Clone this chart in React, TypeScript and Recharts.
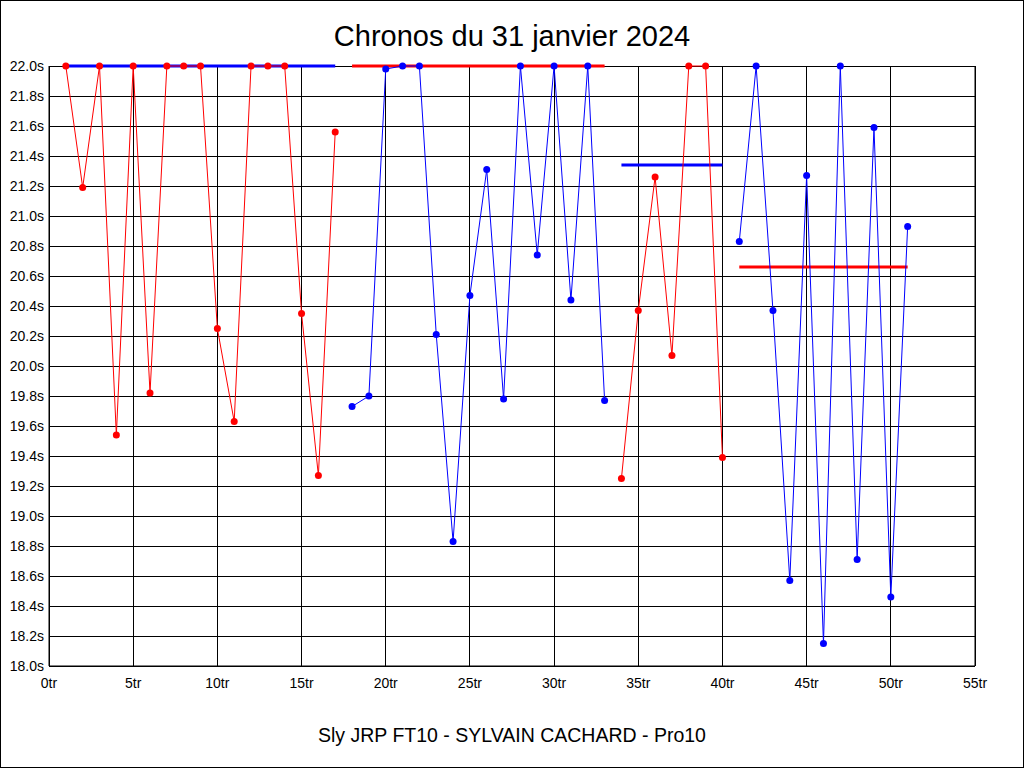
import React from 'react'
import { LineChart, Line, XAxis, YAxis, CartesianGrid } from 'recharts'

// lap times (s), values above 22.0 are shown capped at 22.0
const laps = [
  1, 2, 3, 4, 5, 6, 7, 8, 9, 10, 11, 12, 13, 14, 15, 16, 17,
  18, 19, 20, 21, 22, 23, 24, 25, 26, 27, 28, 29, 30, 31, 32, 33,
  34, 35, 36, 37, 38, 39, 40,
  41, 42, 43, 44, 45, 46, 47, 48, 49, 50, 51,
]
const times = [
  22.0, 21.19, 22.0, 19.54, 22.0, 19.82, 22.0, 22.0, 22.0, 20.25, 19.63, 22.0, 22.0, 22.0, 20.35, 19.27, 21.56,
  19.73, 19.8, 21.98, 22.0, 22.0, 20.21, 18.83, 20.47, 21.31, 19.78, 22.0, 20.74, 22.0, 20.44, 22.0, 19.77,
  19.25, 20.37, 21.26, 20.07, 22.0, 22.0, 19.39,
  20.83, 22.0, 20.37, 18.57, 21.27, 18.15, 22.0, 18.71, 21.59, 18.46, 20.93,
]

// sessions (first lap, last lap), their colour, and the mean line drawn in the other colour
const sessionStart = [1, 18, 34, 41]
const sessionEnd = [17, 33, 40, 51]
const sessionColors = ['#ff0000', '#0000ff', '#ff0000', '#0000ff']
const meanTimes = [22.0, 22.0, 21.34, 20.66]
const meanColors = ['#0000ff', '#ff0000', '#0000ff', '#ff0000']

const xTicks = [0, 5, 10, 15, 20, 25, 30, 35, 40, 45, 50, 55]
const yTicks = [
  18.0, 18.2, 18.4, 18.6, 18.8, 19.0, 19.2, 19.4, 19.6, 19.8, 20.0,
  20.2, 20.4, 20.6, 20.8, 21.0, 21.2, 21.4, 21.6, 21.8, 22.0,
]

const font = '"Liberation Sans", Arial, sans-serif'

export default function App() {
  const sessions = sessionStart.map((s, i) =>
    laps
      .map((lap, j) => ({ lap, time: times[j] }))
      .filter((d) => d.lap >= s && d.lap <= sessionEnd[i])
  )
  const means = sessionStart.map((s, i) => [
    { lap: s, time: meanTimes[i] },
    { lap: sessionEnd[i], time: meanTimes[i] },
  ])
  const tick = { fill: '#000', fontSize: 14, fontFamily: font }

  return (
    <div style={{ position: 'absolute', left: 0, top: 0, width: 1024, height: 768, background: '#fff', fontFamily: font }}>
      <LineChart width={1024} height={768} margin={{ top: 66, right: 4, left: 4, bottom: 72 }}>
        <CartesianGrid yAxisId="left" stroke="#000" strokeOpacity={1} shapeRendering="crispEdges" />
        <XAxis
          dataKey="lap"
          type="number"
          domain={[0, 55]}
          ticks={xTicks}
          tickFormatter={(v) => `${v}tr`}
          tick={tick}
          tickLine={false}
          tickSize={8}
          tickMargin={4}
          height={30}
          axisLine={{ stroke: '#000' }}
        />
        <YAxis
          yAxisId="left"
          domain={[18, 22]}
          ticks={yTicks}
          tickFormatter={(v) => `${Number(v).toFixed(1)}s`}
          tick={tick}
          tickLine={false}
          tickSize={2}
          tickMargin={3}
          width={45}
          interval={0}
          axisLine={{ stroke: '#000' }}
        />
        <YAxis
          yAxisId="right"
          orientation="right"
          domain={[18, 22]}
          ticks={yTicks}
          tickFormatter={(v) => `${Number(v).toFixed(1)}s`}
          tick={tick}
          tickLine={false}
          tickSize={2}
          tickMargin={3}
          width={45}
          interval={0}
          axisLine={{ stroke: '#000' }}
        />
        {means.map((d, i) => (
          <Line
            key={`mean${i}`}
            yAxisId="left"
            data={d}
            dataKey="time"
            stroke={meanColors[i]}
            strokeWidth={3}
            dot={false}
            isAnimationActive={false}
          />
        ))}
        {sessions.map((d, i) => (
          <Line
            key={`s${i}`}
            yAxisId="left"
            data={d}
            dataKey="time"
            type="linear"
            stroke={sessionColors[i]}
            strokeWidth={1}
            dot={{ r: 3.5, fill: sessionColors[i], stroke: sessionColors[i], strokeWidth: 0 }}
            isAnimationActive={false}
          />
        ))}
      </LineChart>
      <div style={{ position: 'absolute', left: 0, top: 18, width: 1024, textAlign: 'center', fontSize: 29, lineHeight: '36px', color: '#000' }}>
        Chronos du 31 janvier 2024
      </div>
      <div style={{ position: 'absolute', left: 0, top: 723, width: 1024, textAlign: 'center', fontSize: 19.5, lineHeight: '24px', color: '#000' }}>
        Sly JRP FT10 - SYLVAIN CACHARD - Pro10
      </div>
      <div style={{ position: 'absolute', left: 0, top: 0, width: 1024, height: 768, boxSizing: 'border-box', border: '1px solid #000', pointerEvents: 'none' }} />
    </div>
  )
}
